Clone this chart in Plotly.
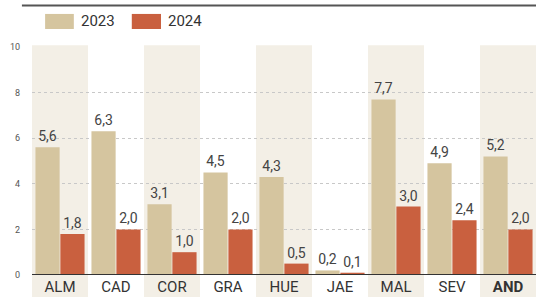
import plotly.graph_objects as go

categories = ["ALM", "CAD", "COR", "GRA", "HUE", "JAE", "MAL", "SEV", "AND"]
tick_labels = ["ALM", "CAD", "COR", "GRA", "HUE", "JAE", "MAL", "SEV", "<b>AND</b>"]
values_2023 = [5.6, 6.3, 3.1, 4.5, 4.3, 0.2, 7.7, 4.9, 5.2]
values_2024 = [1.8, 2.0, 1.0, 2.0, 0.5, 0.1, 3.0, 2.4, 2.0]
y_ticks = [0, 2, 4, 6, 8, 10]
series_names = ["2023", "2024"]

C23 = "#d5c59f"
C24 = "#c9603f"
BAND = "#f3efe6"
FONT = "Roboto, Arial, sans-serif"

def fmt(v):
    return f"{v:.1f}".replace(".", ",")

x = list(range(len(categories)))
fig = go.Figure()
for name, vals, col in [(series_names[0], values_2023, C23), (series_names[1], values_2024, C24)]:
    fig.add_trace(go.Bar(
        x=x, y=vals, name=name, marker=dict(color=col, line=dict(width=0)),
        text=[fmt(v) for v in vals], textposition="outside",
        textfont=dict(size=14, color="#444444", family=FONT),
        cliponaxis=False, showlegend=False,
    ))

shapes = []
for i in range(0, len(categories), 2):
    shapes.append(dict(type="rect", xref="x", yref="paper", x0=i - 0.5, x1=i + 0.5,
                       y0=-0.1, y1=1.008, fillcolor=BAND, line=dict(width=0), layer="below"))
# baseline
shapes.append(dict(type="line", xref="paper", yref="y", x0=0, x1=1, y0=0, y1=0,
                   line=dict(color="#333333", width=2)))
# top rule (thin filled band)
shapes.append(dict(type="rect", xref="paper", yref="paper", x0=-0.02, x1=1.0, y0=1.178, y1=1.186,
                   fillcolor="#555555", line=dict(width=0)))
# legend swatches
shapes.append(dict(type="rect", xref="paper", yref="paper", x0=0.026, x1=0.083, y0=1.079, y1=1.145,
                   fillcolor=C23, line=dict(width=0)))
shapes.append(dict(type="rect", xref="paper", yref="paper", x0=0.198, x1=0.256, y0=1.079, y1=1.145,
                   fillcolor=C24, line=dict(width=0)))

annotations = [
    dict(text=series_names[0], xref="paper", yref="paper", x=0.093, y=1.112, xanchor="left",
         yanchor="middle", showarrow=False, font=dict(size=15, color="#333333", family=FONT)),
    dict(text=series_names[1], xref="paper", yref="paper", x=0.266, y=1.112, xanchor="left",
         yanchor="middle", showarrow=False, font=dict(size=15, color="#333333", family=FONT)),
]

fig.update_layout(
    width=537, height=297,
    margin=dict(l=32, r=1, t=47, b=22),
    paper_bgcolor="white", plot_bgcolor="rgba(0,0,0,0)",
    barmode="group", bargap=0.11, bargroupgap=0.03,
    shapes=shapes, annotations=annotations,
    font=dict(family=FONT),
    xaxis=dict(range=[-0.5, len(categories) - 0.5], tickmode="array", tickvals=x,
               ticktext=tick_labels, showgrid=False, zeroline=False, showline=False,
               ticks="", ticklabelstandoff=1,
               tickfont=dict(size=15, color="#333333", family=FONT)),
    yaxis=dict(range=[0, 10], tickmode="array", tickvals=y_ticks, showgrid=True,
               gridcolor="#c8c8c8", griddash="dot", gridwidth=1, zeroline=False,
               showline=False, ticks="", ticklabelstandoff=11,
               tickfont=dict(size=9, color="#555555", family=FONT)),
)
fig.write_html("out.html", config={"displayModeBar": False},
               post_script="document.body.style.margin='0';document.body.style.overflow='hidden';")
